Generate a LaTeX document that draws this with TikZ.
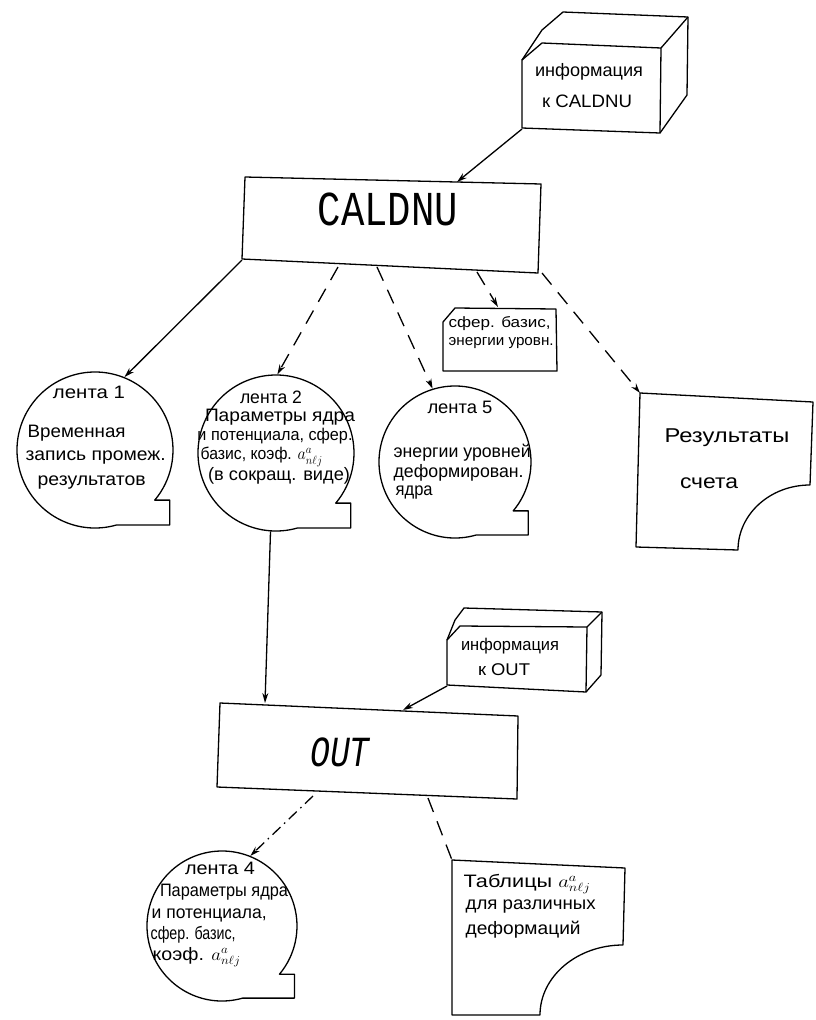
\documentclass[tikz,border=0pt]{standalone}
\usepackage{fontspec}
\usepackage{graphicx}
\setmainfont{Liberation Sans}
\setmonofont{Liberation Mono}
\usetikzlibrary{arrows.meta,calc}
\newcommand\mytape[3]{\draw ($(#1)+(74:#2)$) arc[start angle=74,end angle=400,radius=#2] -- ++(#3,0) |- ($(#1)+(74:#2)$);}
\newcommand\fitw[2]{\resizebox{#1pt}{\height}{#2}}
\begin{document}
\begin{tikzpicture}[x=1pt,y=-1pt,line width=1.3pt,line join=round,
  txt/.style={inner sep=0pt,font=\fontsize{18}{20}\selectfont},
  stxt/.style={inner sep=0pt,font=\fontsize{15}{17}\selectfont},
  btxt/.style={inner sep=0pt,font=\fontsize{20}{22}\selectfont},
  tapenode/.style={circle,inner sep=0pt,minimum size=#1},
  arr/.style={-{Stealth[length=10pt,width=6pt]}},
  dsh/.style={dash pattern=on 15pt off 10pt},
  dd/.style={dash pattern=on 11pt off 5pt on 1.5pt off 5pt}]
\useasboundingbox (0,0) rectangle (816,1020);

% ---- info box to CALDNU
\draw (522,128) -- (522,60) -- (542,43) -- (661,48) -- (660,133) -- cycle;
\draw (522,60) -- (542,30) -- (563,12) -- (688,17) -- (687,95) -- (660,133);
\draw (661,48) -- (688,17);
\node[txt] (ib1) at (589,72) {\fitw{108}{информация}};
\node[txt] (ib2) at (587,101) {\fitw{90}{к CALDNU}};
\coordinate (ibout) at (522,129);

% ---- CALDNU
\draw (245,177) -- (541,184) -- (538,273) -- (242,259) -- cycle;
\node[inner sep=0pt,font=\ttfamily\fontsize{39}{40}\selectfont] (cal) at (388,209) {\scalebox{1}[1.25]{CALDNU}};
\coordinate (calin) at (457,182);
\coordinate (calo1) at (242,260);
\coordinate (calo2) at (338,267);
\coordinate (calo3) at (377,267);
\coordinate (calo4) at (477,272);
\coordinate (calo5) at (542,273);
\draw[arr] (ibout) -- (calin);

% ---- tapes
\node[tapenode=156pt] (t1) at (95,450) {};
\node[tapenode=156pt] (t2) at (276,453) {};
\node[tapenode=152pt] (t5) at (455,462) {};
\node[tapenode=150pt] (t4) at (222,926) {};
\mytape{t1}{78}{15}
\mytape{t2}{78}{15}
\mytape{t5}{76}{15}
\mytape{t4}{75}{15}

% tape 1 text
\node[txt] (t1a) at (89,392) {\fitw{72}{лента 1}};
\node[txt,anchor=west] (t1b) at (27,433) {\fitw{98}{Временная}};
\node[txt,anchor=west] (t1c) at (25,458) {\fitw{140}{запись промеж.}};
\node[txt,anchor=west] (t1d) at (37,483) {\fitw{108}{результатов}};

% tape 2 text
\node[txt] (t2a) at (271,397) {\fitw{62}{лента 2}};
\node[txt] (t2b) at (280,417) {\fitw{150}{Параметры ядра}};
\node[txt,font=\fontsize{17}{18}\selectfont] (t2c) at (275,436) {\fitw{155}{и потенциала, сфер.}};
\node[txt,anchor=west,font=\fontsize{17}{18}\selectfont] (t2d) at (200,457) {\fitw{122}{базис, коэф. $a^{a}_{n\ell j}$}};
\node[txt] (t2e) at (279,476) {\fitw{142}{(в сокращ. виде)}};

% tape 5 text
\node[txt] (t5a) at (460,407) {\fitw{65}{лента 5}};
\node[txt,anchor=west] (t5b) at (393,453) {\fitw{137}{энергии уровней}};
\node[txt,anchor=west] (t5c) at (393,473) {\fitw{130}{деформирован.}};
\node[txt,anchor=west] (t5d) at (395,493) {\fitw{37}{ядра}};

% small box
\draw (443,371) -- (443,322) -- (455,308) -- (556,309) -- (557,371) -- cycle;
\node[stxt,anchor=west] (sb1) at (448,324) {\fitw{102}{сфер. базис,}};
\node[stxt,anchor=west] (sb2) at (448,343) {\fitw{105}{энергии уровн.}};
\coordinate (sbin) at (498,307);

% results document
\coordinate (rtl) at (640,393);
\draw (rtl) -- (813,402) -- (810,485) arc[start angle=270,end angle=180,x radius=72,y radius=65] -- (636,547) -- cycle;
\node[btxt] (r1) at (727,438) {\fitw{125}{Результаты}};
\node[btxt] (r2) at (709,483) {\fitw{58}{счета}};

% connectors from CALDNU
\draw[arr] (calo1) -- (t1.68);
\draw[arr,dsh] (calo2) -- (t2.89);
\draw[arr,dsh] (calo3) -- (t5.107);
\draw[arr,dsh] (calo4) -- (sbin);
\draw[arr,dsh] (calo5) -- (rtl);

% ---- info box to OUT
\draw (447,685) -- (447,640) -- (460,626) -- (587,627) -- (586,692) -- cycle;
\draw (447,640) -- (455,620) -- (464,608) -- (602,612) -- (601,675) -- (586,692);
\draw (587,627) -- (602,612);
\node[txt,font=\fontsize{17}{18}\selectfont] (io1) at (510,646) {\fitw{98}{информация}};
\node[txt,font=\fontsize{17}{18}\selectfont] (io2) at (504,670) {\fitw{52}{к OUT}};
\coordinate (ioout) at (447,686);

% ---- OUT
\draw (220,703) -- (518,716) -- (517,799) -- (217,787) -- cycle;
\node[inner sep=0pt,font=\ttfamily\itshape\fontsize{33}{34}\selectfont] (out) at (340,752) {\scalebox{1}[1.3]{OUT}};
\coordinate (outin1) at (265,703);
\coordinate (outin2) at (403,710);
\coordinate (outo1) at (313,796);
\coordinate (outo2) at (428,798);
\draw[arr] (t2.266) -- (outin1);
\draw[arr] (ioout) -- (outin2);

% tape 4 text
\node[txt] (t4a) at (220,868) {\fitw{70}{лента 4}};
\node[txt] (t4b) at (224,892) {\fitw{128}{Параметры ядра}};
\node[txt,anchor=west] (t4c) at (151,915) {\fitw{115}{и потенциала,}};
\node[txt,anchor=west] (t4d) at (150,935) {\fitw{85}{сфер. базис,}};
\node[txt,anchor=west] (t4e) at (152,957) {\fitw{88}{коэф. $a^{a}_{n\ell j}$}};

% tables document
\coordinate (ttl) at (452,860);
\draw (ttl) -- (625,868) -- (623,945) arc[start angle=270,end angle=180,x radius=83,y radius=70] -- (452,1015) -- cycle;
\node[txt,anchor=west] (tb1) at (463,884) {\fitw{127}{Таблицы $a^{a}_{n\ell j}$}};
\node[txt,anchor=west] (tb2) at (465,907) {\fitw{130}{для различных}};
\node[txt,anchor=west] (tb3) at (465,930) {\fitw{115}{деформаций}};

\draw[arr,dd] (outo1) -- (t4.68);
\draw[dsh] (outo2) -- (ttl);
\end{tikzpicture}
\end{document}
